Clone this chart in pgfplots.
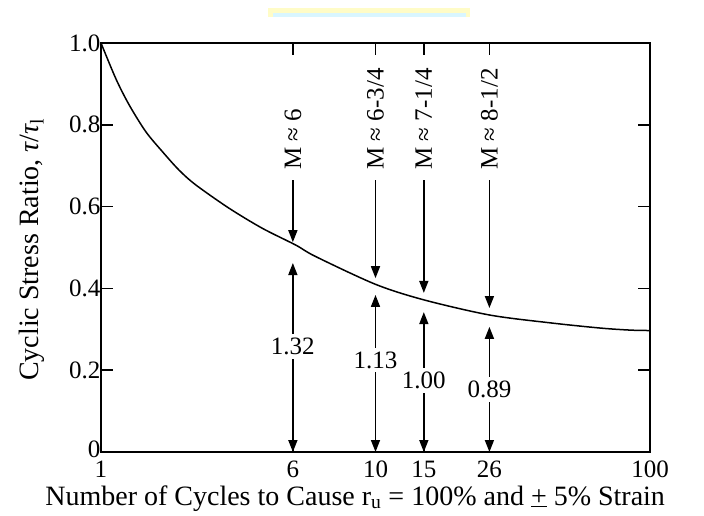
\documentclass[border=0pt]{standalone}
\usepackage{pgfplots}
\pgfplotsset{compat=1.18}
\usepackage{fontspec}
\setmainfont{Liberation Serif}
\usetikzlibrary{arrows.meta}
\begin{document}
\begin{tikzpicture}[x=1pt,y=1pt]
\useasboundingbox (0,0) rectangle (704,515);
% faint bar at top of the scan
\fill[yellow!22] (268,498) rectangle (470,507);
\fill[blue!25!cyan!15!white] (273,498) rectangle (466,502);
\begin{axis}[
  at={(101pt,63pt)}, anchor=south west,
  scale only axis, width=549pt, height=409pt,
  xmode=log, xmin=1, xmax=100, ymin=0, ymax=1,
  xtick={1,5,10,15,26,100},
  xticklabels={1,6,10,15,26,100},
  minor xtick={},
  xtick pos=both, ytick pos=both,
  ytick={0,0.2,0.4,0.6,0.8,1.0},
  yticklabels={\raisebox{6pt}{0},0.2,0.4,0.6,0.8,1.0},
  tick align=inside,
  major tick length=12pt,
  tick style={line width=1.5pt, black},
  axis line style={line width=1.5pt},
  ticklabel style={font=\fontsize{25}{28}\selectfont},
  /pgf/number format/assume math mode=true,
  xticklabel style={yshift=-5pt},
  yticklabel style={xshift=3pt},
  xlabel={Number of Cycles to Cause r\textsubscript{u} = 100\% and \underline{+} 5\% Strain},
  xlabel style={font=\fontsize{28}{32}\selectfont, at={(axis description cs:0.463,-0.130)}, anchor=base},
  ylabel={Cyclic Stress Ratio, {\itshape τ}/{\itshape τ}\textsubscript{l}},
  ylabel style={font=\fontsize{28}{32}\selectfont, at={(axis description cs:-0.126,0.495)}, anchor=center},
  clip=false,
]
\addplot[black, line width=1.5pt, smooth] coordinates {
(1,1.0) (1.134,0.912) (1.268,0.848) (1.457,0.783) (1.676,0.734) (1.926,0.689)
(2.215,0.653) (2.928,0.596) (3.87,0.547) (5.12,0.506) (6.05,0.478) (10,0.41)
(15,0.372) (26,0.335) (43,0.316) (66,0.303) (85,0.298) (100,0.297)};
% top ticks
\draw[line width=1.5pt] (axis cs:5,1) -- (axis cs:5,0.971);
\draw[line width=1.5pt] (axis cs:10,1) -- (axis cs:10,0.971);
\draw[line width=1.5pt] (axis cs:15,1) -- (axis cs:15,0.971);
\draw[line width=1.5pt] (axis cs:26,1) -- (axis cs:26,0.971);
% arrows from labels down to curve
\tikzset{ah/.style={-{Triangle[length=12pt,width=9pt]}, line width=1.6pt},
         dah/.style={{Triangle[length=12pt,width=9pt]}-{Triangle[length=12pt,width=9pt]}, line width=1.6pt}}
\draw[ah] (axis cs:5,0.665) -- (axis cs:5,0.513);
\draw[ah] (axis cs:10,0.665) -- (axis cs:10,0.425);
\draw[ah] (axis cs:15,0.665) -- (axis cs:15,0.389);
\draw[ah] (axis cs:26,0.665) -- (axis cs:26,0.352);
% double arrows from axis to curve
\draw[dah] (axis cs:5,0) -- (axis cs:5,0.462);
\draw[dah] (axis cs:10,0) -- (axis cs:10,0.384);
\draw[dah] (axis cs:15,0) -- (axis cs:15,0.342);
\draw[dah] (axis cs:26,0) -- (axis cs:26,0.306);
\begin{scope}[every node/.style={font=\fontsize{25}{28}\selectfont, fill=white, inner sep=4pt}]
\node at (axis cs:5,0.257) {1.32};
\node at (axis cs:10,0.225) {1.13};
\node at (axis cs:15,0.176) {1.00};
\node at (axis cs:26,0.152) {0.89};
\end{scope}
\begin{scope}[every node/.style={font=\fontsize{25}{28}\selectfont, rotate=90, anchor=west, inner sep=0pt}]
\node at (axis cs:5,0.69) {M ≈ 6};
\node at (axis cs:10,0.69) {M ≈ 6-3/4};
\node at (axis cs:15,0.69) {M ≈ 7-1/4};
\node at (axis cs:26,0.69) {M ≈ 8-1/2};
\end{scope}
\end{axis}
\end{tikzpicture}
\end{document}
